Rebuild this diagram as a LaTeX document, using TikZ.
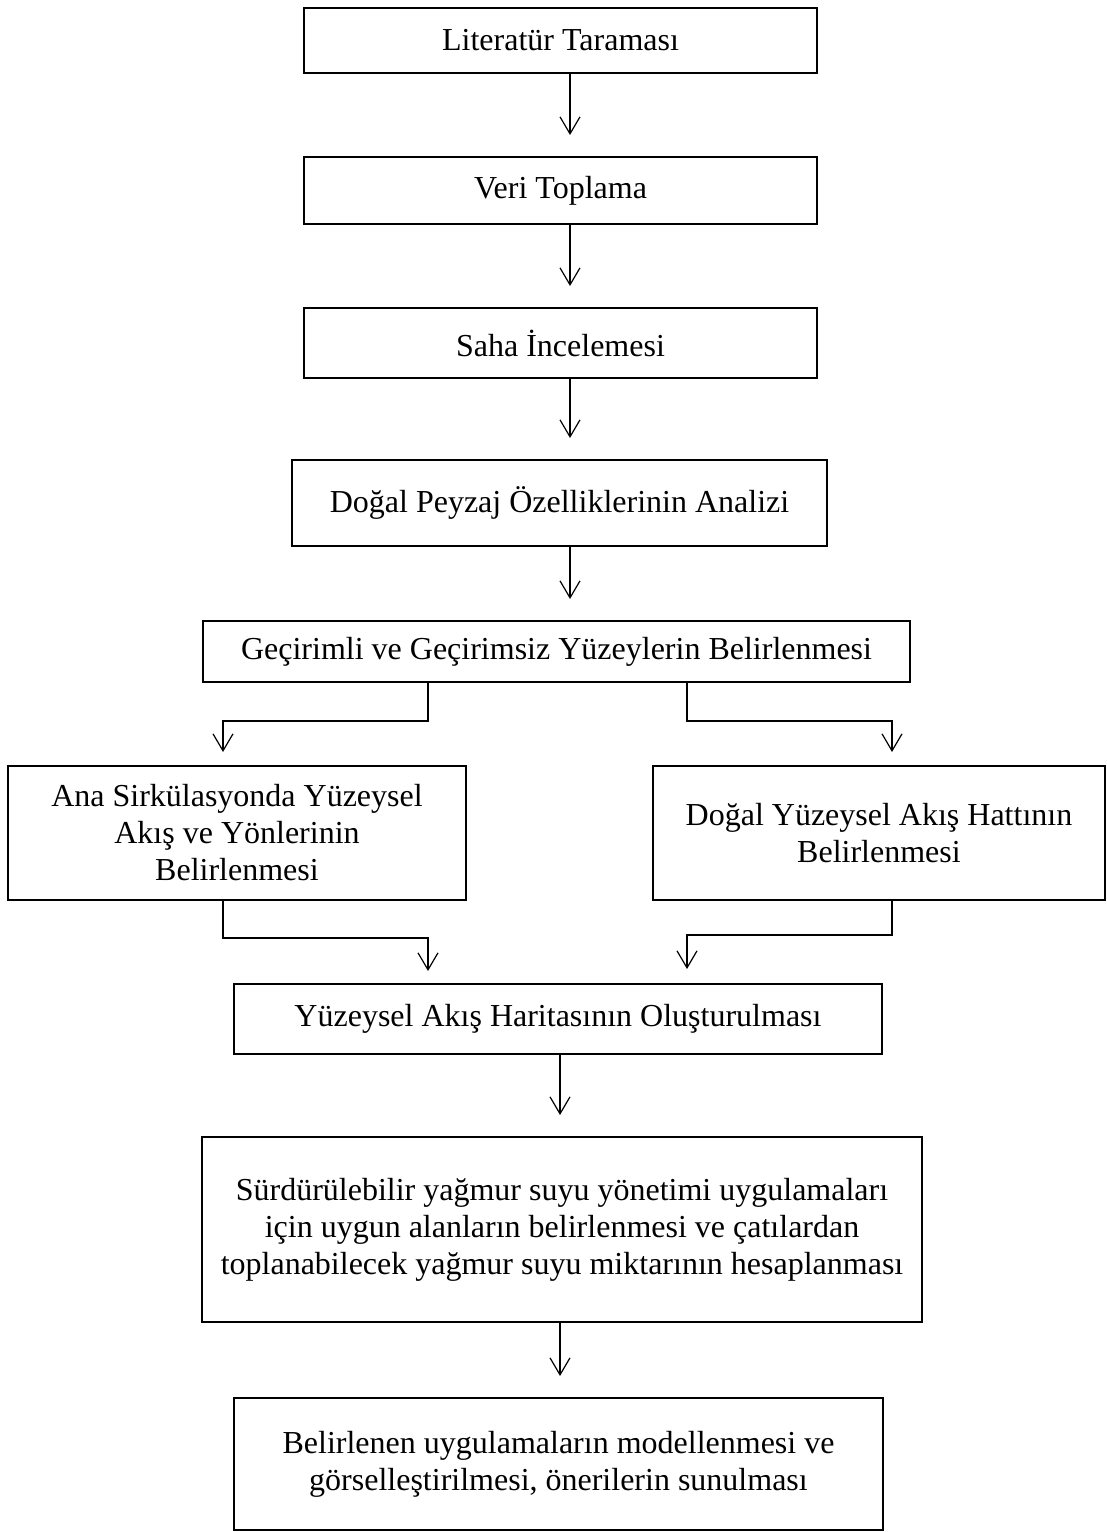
\documentclass[tikz,border=0pt]{standalone}
\usepackage{fontspec}
\setmainfont{Liberation Serif}
\usetikzlibrary{arrows.meta,positioning}

\begin{document}
\begin{tikzpicture}[x=0.5pt,y=-0.5pt,
    stepbox/.style={draw,line width=1pt,inner sep=0pt,align=center,
      font=\fontsize{16pt}{18.5pt}\selectfont},
    arr/.style={line width=0.6pt,-{Straight Barb[length=8.5pt,width=10pt]}},
    gap/.style={shorten >=#1}]
  \useasboundingbox (0,0) rectangle (1107,1532);
  % main steps
  \node[stepbox,minimum width=256.5pt,minimum height=32.5pt] (lit) at (560.5,40.5) {Literatür Taraması};
  \node[stepbox,minimum width=256.5pt,minimum height=33.5pt] (veri) at (560.5,190.5) {Veri Toplama};
  \node[stepbox,minimum width=256.5pt,minimum height=35pt] (saha) at (560.5,343) {Saha İncelemesi};
  \node[stepbox,minimum width=267.5pt,minimum height=43pt] (peyzaj) at (559.5,503) {Doğal Peyzaj Özelliklerinin Analizi};
  \node[stepbox,minimum width=353.5pt,minimum height=30.5pt] (yuzey) at (556.5,651.5) {Geçirimli ve Geçirimsiz Yüzeylerin Belirlenmesi};
  % two branches
  \node[stepbox,minimum width=229pt,minimum height=67pt] (sirk) at (237,833) {Ana Sirkülasyonda Yüzeysel\\Akış ve Yönlerinin\\Belirlenmesi};
  \node[stepbox,minimum width=226pt,minimum height=67pt] (hat) at (879,833) {Doğal Yüzeysel Akış Hattının\\Belirlenmesi};
  \node[stepbox,minimum width=324pt,minimum height=35pt] (harita) at (558,1019) {Yüzeysel Akış Haritasının Oluşturulması};
  \node[stepbox,minimum width=360pt,minimum height=92.5pt] (uygun) at (562,1229.5) {Sürdürülebilir yağmur suyu yönetimi uygulamaları\\için uygun alanların belirlenmesi ve çatılardan\\toplanabilecek yağmur suyu miktarının hesaplanması};
  \node[stepbox,minimum width=324.5pt,minimum height=66pt] (model) at (558.5,1464) {Belirlenen uygulamaların modellenmesi ve\\görselleştirilmesi, önerilerin sunulması};
  % arrow columns
  \coordinate (colA) at (570,0);
  \coordinate (colB) at (560,0);
  \coordinate (colL) at (223,0);
  \coordinate (colLi) at (428,0);
  \coordinate (colRi) at (687,0);
  \coordinate (colR) at (892,0);
  \foreach \a/\b in {lit/veri,veri/saha,saha/peyzaj,peyzaj/yuzey}
    \draw[arr,gap=10.5pt] (\a.south -| colA) -- (\b.north -| colA);
  \foreach \a/\b in {harita/uygun,uygun/model}
    \draw[arr,gap=10.5pt] (\a.south -| colB) -- (\b.north -| colB);
  % split and merge
  \draw[arr,gap=6.5pt] (yuzey.south -| colLi) -- ++(0,38) -| (sirk.north -| colL);
  \draw[arr,gap=6.5pt] (yuzey.south -| colRi) -- ++(0,38) -| (hat.north -| colR);
  \draw[arr,gap=6pt] (sirk.south -| colL) -- ++(0,37) -| (harita.north -| colLi);
  \draw[arr,gap=7pt] (hat.south -| colR) -- ++(0,34) -| (harita.north -| colRi);
\end{tikzpicture}
\end{document}
